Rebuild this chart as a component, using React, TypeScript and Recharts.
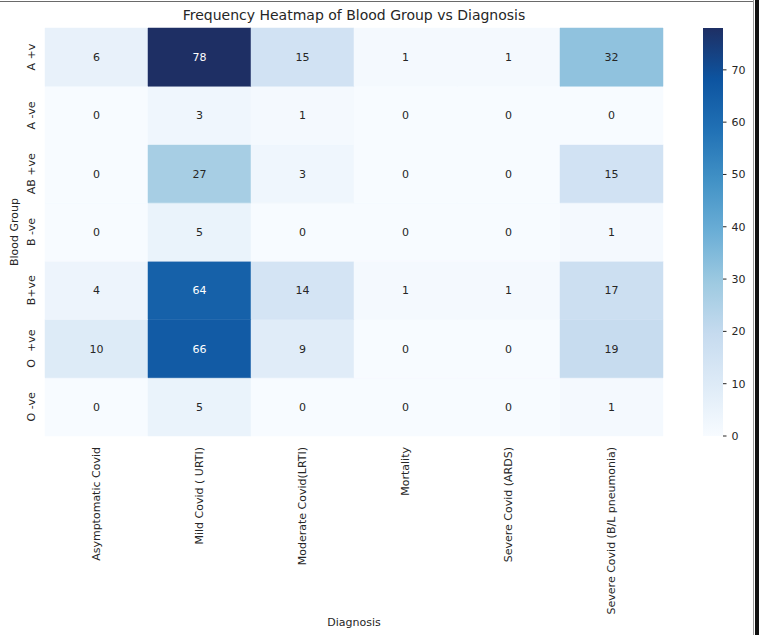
import React from 'react'
import { BarChart, Bar, XAxis, YAxis, Cell, LabelList } from 'recharts'

const diagnoses = [
  'Asymptomatic Covid',
  'Mild Covid ( URTI)',
  'Moderate Covid(LRTI)',
  'Mortality',
  'Severe Covid (ARDS)',
  'Severe Covid (B/L pneumonia)',
]

// top to bottom, as drawn
const bloodGroups = ['A +v', 'A -ve', 'AB +ve', 'B -ve', 'B+ve', 'O  +ve', 'O -ve']

const aPos = [6, 78, 15, 1, 1, 32]
const aNeg = [0, 3, 1, 0, 0, 0]
const abPos = [0, 27, 3, 0, 0, 15]
const bNeg = [0, 5, 0, 0, 0, 1]
const bPos = [4, 64, 14, 1, 1, 17]
const oPos = [10, 66, 9, 0, 0, 19]
const oNeg = [0, 5, 0, 0, 0, 1]

const counts = [aPos, aNeg, abPos, bNeg, bPos, oPos, oNeg]
const colorbarTicks = [0, 10, 20, 30, 40, 50, 60, 70]

const maxCount = Math.max(...counts.flat())

// matplotlib "Blues" (slightly muted like the screenshot)
const BLUES = ['#f7fbff', '#deebf7', '#c6dbef', '#9ecae1', '#6baed6', '#4292c6', '#2171b5', '#0d54a0', '#1e2f64']

function hexToRgb(h: string) {
  const n = parseInt(h.slice(1), 16)
  return [(n >> 16) & 255, (n >> 8) & 255, n & 255]
}

function blues(t: number) {
  const p = Math.max(0, Math.min(1, t)) * (BLUES.length - 1)
  const i = Math.min(Math.floor(p), BLUES.length - 2)
  const f = p - i
  const a = hexToRgb(BLUES[i])
  const b = hexToRgb(BLUES[i + 1])
  const c = a.map((v, k) => Math.round(v + (b[k] - v) * f))
  return `rgb(${c[0]},${c[1]},${c[2]})`
}

// one row per diagnosis, stacked segments = blood groups (bottom first)
const rowsBottomUp = bloodGroups.map((_, i) => i).reverse()
const table = diagnoses.map((d, j) => {
  const row: any = { diag: d }
  bloodGroups.forEach((_, r) => {
    row[`c${r}`] = 1
    row[`v${r}`] = counts[r][j]
  })
  return row
})

const FONT = '"DejaVu Sans", sans-serif'
const TXT = '#262626'

const CellLabel = (props: any) => {
  const { x, y, width, height, value } = props
  const dark = value / maxCount > 0.55
  return (
    <text x={x + width / 2} y={y + height / 2} dy={4} textAnchor="middle"
      fontSize={11} fontFamily={FONT} fill={dark ? '#ffffff' : TXT}>
      {value}
    </text>
  )
}

const XTick = ({ x, y, payload }: any) => (
  <text transform={`translate(${x + 3},${y + 3}) rotate(-90)`} textAnchor="end"
    fontSize={11} fontFamily={FONT} fill={TXT}>
    {payload.value}
  </text>
)

const YTick = ({ x, y, payload }: any) => {
  const label = bloodGroups[bloodGroups.length - 1 - Math.floor(payload.value)]
  return (
    <text transform={`translate(${x - 2},${y}) rotate(-90)`} textAnchor="middle"
      fontSize={11} fontFamily={FONT} fill={TXT} style={{ whiteSpace: 'pre' }}>
      {label}
    </text>
  )
}

export default function App() {
  const yTicks = bloodGroups.map((_, i) => i + 0.5)
  return (
    <div style={{ position: 'absolute', left: 0, top: 0, width: 759, height: 635, background: '#fff', fontFamily: FONT }}>
      <div style={{ position: 'absolute', left: 0, top: 1, width: 754, height: 1, background: '#6a6a6a' }} />
      <div style={{ position: 'absolute', left: 753, top: 0, width: 1, height: 635, background: '#9a9a9a' }} />
      <div style={{ position: 'absolute', left: 755, top: 0, width: 4, height: 635, background: '#111' }} />

      <div style={{ position: 'absolute', left: 45, width: 618, top: 7, textAlign: 'center', fontSize: 14, color: TXT }}>
        Frequency Heatmap of Blood Group vs Diagnosis
      </div>
      <div style={{ position: 'absolute', left: 45, width: 618, top: 616, textAlign: 'center', fontSize: 11, color: TXT }}>
        Diagnosis
      </div>
      <div style={{ position: 'absolute', left: 14, top: 232, width: 0, height: 0 }}>
        <div style={{ position: 'absolute', transform: 'translate(-50%,-50%) rotate(-90deg)', whiteSpace: 'nowrap', fontSize: 11, color: TXT }}>
          Blood Group
        </div>
      </div>

      <BarChart width={759} height={635} data={table} barCategoryGap={0} barGap={0}
        margin={{ top: 28, right: 96, bottom: 0, left: 0 }}>
        <XAxis dataKey="diag" height={199} interval={0} axisLine={false} tickLine={false} tick={<XTick />} />
        <YAxis type="number" domain={[0, bloodGroups.length]} ticks={yTicks} width={45}
          axisLine={false} tickLine={false} tick={<YTick />} />
        {rowsBottomUp.map((r) => (
          <Bar key={r} dataKey={`c${r}`} stackId="h" isAnimationActive={false}>
            {table.map((row, j) => {
              const fill = blues(row[`v${r}`] / maxCount)
              return <Cell key={j} fill={fill} stroke={fill} strokeWidth={0.5} />
            })}
            <LabelList dataKey={`v${r}`} content={<CellLabel />} />
          </Bar>
        ))}
      </BarChart>

      <div style={{ position: 'absolute', left: 703, top: 28 }}>
        <BarChart width={50} height={420} data={[{ name: 'scale', v: maxCount }]}
          barCategoryGap={0} margin={{ top: 0, right: 0, bottom: 12, left: 0 }}>
          <defs>
            <linearGradient id="bluesBar" x1="0" y1="1" x2="0" y2="0">
              {BLUES.map((c, i) => (
                <stop key={i} offset={`${(i / (BLUES.length - 1)) * 100}%`} stopColor={c} />
              ))}
            </linearGradient>
          </defs>
          <XAxis dataKey="name" hide />
          <YAxis orientation="right" type="number" domain={[0, maxCount]} ticks={colorbarTicks} width={30}
            axisLine={false} tickSize={3.5} tickLine={{ stroke: TXT }} interval={0}
            tick={{ fontSize: 11, fill: TXT, fontFamily: FONT, dx: 3 }} />
          <Bar dataKey="v" fill="url(#bluesBar)" isAnimationActive={false} />
        </BarChart>
      </div>
    </div>
  )
}
